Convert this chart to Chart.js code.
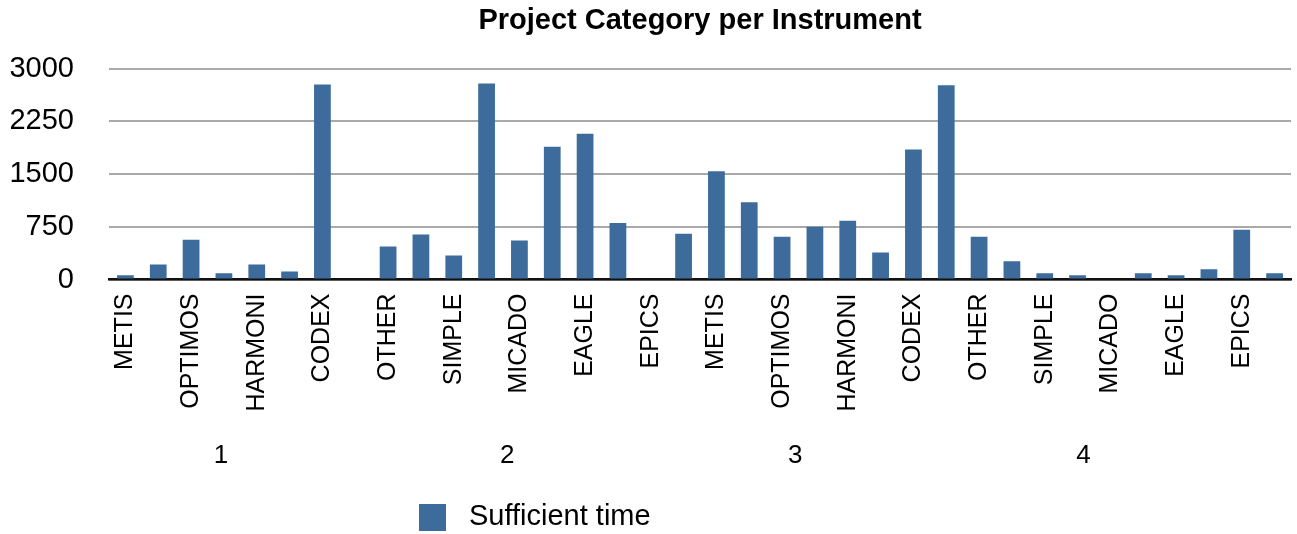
<!DOCTYPE html>
<html>
<head>
<meta charset="utf-8">
<script src="https://cdn.jsdelivr.net/npm/chart.js@4.4.1/dist/chart.umd.min.js"></script>
<style>
  html, body { margin: 0; padding: 0; background: #fff; }
  #wrap { width: 1297px; height: 534px; position: relative; }
</style>
</head>
<body>
<div id="wrap"><canvas id="c" width="1297" height="534"></canvas></div>
<script>
// ---- data ----
const categories = [
  'METIS','SIMPLE','OPTIMOS','MICADO','HARMONI','EAGLE','CODEX','EPICS','OTHER',
  'METIS','SIMPLE','OPTIMOS','MICADO','HARMONI','EAGLE','CODEX','EPICS','OTHER',
  'METIS','SIMPLE','OPTIMOS','MICADO','HARMONI','EAGLE','CODEX','EPICS','OTHER',
  'METIS','SIMPLE','OPTIMOS','MICADO','HARMONI','EAGLE','CODEX','EPICS','OTHER'
];
const sufficientTime = [
  60, 215, 565, 90, 215, 115, 2775, 0, 470,
  640, 340, 2790, 555, 1890, 2075, 805, 0, 650,
  1540, 1100, 610, 750, 835, 385, 1850, 2765, 610,
  260, 90, 60, 0, 90, 60, 145, 710, 90
];
const groupLabels = ['1', '2', '3', '4'];
const yTicks = [0, 750, 1500, 2250, 3000];
const seriesName = 'Sufficient time';
const chartTitle = 'Project Category per Instrument';

// ---- styling ----
const FONT = '"Liberation Sans", Arial, Helvetica, sans-serif';
const BAR_COLOR = '#3c6b9c';
// positions of the group captions, in category units on the x scale
const groupLabelAt = [2.91, 11.63, 20.4, 29.18];

const extras = {
  id: 'extras',
  afterDraw(chart) {
    const ctx = chart.ctx;
    const xs = chart.scales.x;
    ctx.save();
    ctx.fillStyle = '#000';
    ctx.font = '26px ' + FONT;
    ctx.textAlign = 'center';
    ctx.textBaseline = 'middle';
    groupLabels.forEach((g, i) => {
      ctx.fillText(g, xs.getPixelForValue(groupLabelAt[i]), 456);
    });
    // legend
    const ds = chart.data.datasets[0];
    ctx.fillStyle = ds.backgroundColor;
    ctx.fillRect(419, 504, 27, 27);
    ctx.fillStyle = '#000';
    ctx.font = '29px ' + FONT;
    ctx.textAlign = 'left';
    ctx.fillText(ds.label, 469, 517);
    ctx.restore();
  }
};

new Chart(document.getElementById('c'), {
  type: 'bar',
  data: {
    labels: categories,
    datasets: [{
      label: seriesName,
      data: sufficientTime,
      backgroundColor: BAR_COLOR,
      borderWidth: 0,
      barPercentage: 0.51,
      categoryPercentage: 1.0
    }]
  },
  plugins: [extras],
  options: {
    responsive: false,
    animation: false,
    devicePixelRatio: 1,
    layout: { padding: { left: 0, right: 6, top: 0, bottom: 0 } },
    plugins: {
      legend: { display: false },
      tooltip: { enabled: false },
      title: {
        display: true,
        text: chartTitle,
        fullSize: false,
        color: '#000',
        font: { family: FONT, size: 29, weight: 'bold' },
        padding: { top: 4, bottom: 30 }
      }
    },
    scales: {
      x: {
        type: 'category',
        z: 1,
        offset: true,
        grid: { display: false, drawTicks: false },
        border: { display: true, color: '#111', width: 2.5 },
        ticks: {
          autoSkip: false,
          minRotation: 90,
          maxRotation: 90,
          padding: 14,
          color: '#000',
          font: { family: FONT, size: 25 },
          callback: function (v, i) { return i % 2 === 0 ? categories[i] : ''; }
        },
        afterFit(scale) {
          scale.height = 254.5;
          scale.paddingLeft = 0;
          scale.paddingRight = 0;
        }
      },
      y: {
        min: 0,
        max: 3000,
        afterBuildTicks(scale) { scale.ticks = yTicks.map(v => ({ value: v })); },
        grid: { color: '#a9a9a9', lineWidth: 2, drawTicks: false },
        border: { display: false },
        ticks: {
          padding: 35,
          color: '#000',
          font: { family: FONT, size: 29 },
          callback: function (v) { return String(v); }
        },
        afterFit(scale) { scale.width = 109; }
      }
    }
  }
});
</script>
</body>
</html>
